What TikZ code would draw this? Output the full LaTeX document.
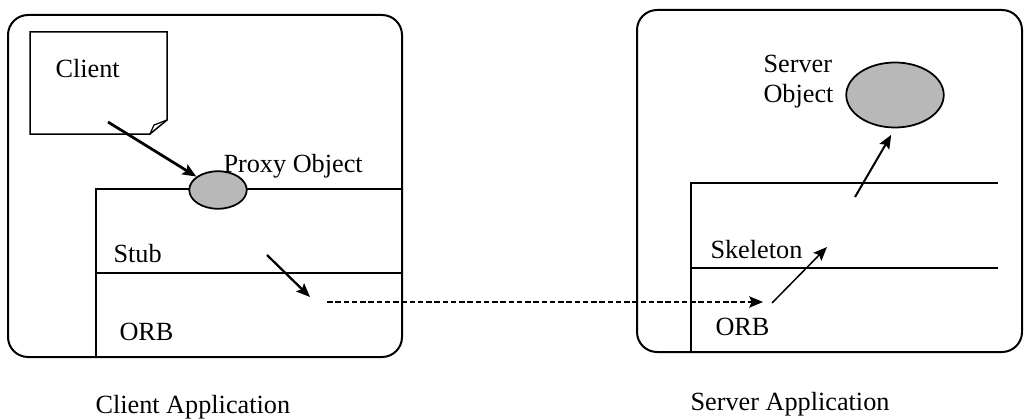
\documentclass[tikz,border=0pt]{standalone}
\usepackage{fontspec}
\setmainfont{Liberation Serif}
\usetikzlibrary{arrows.meta,shapes.geometric}

\begin{document}
\begin{tikzpicture}[x=0.4pt,y=-0.4pt,
  app/.style={draw,line width=0.8pt,rounded corners=8pt},
  layer/.style={line width=0.6pt},
  obj/.style={ellipse,draw,line width=0.7pt,fill=black!28,inner sep=0pt},
  txt/.style={font=\fontsize{10.5}{12}\selectfont,inner sep=0pt,anchor=base west},
  call/.style={-{Stealth[length=5.5pt,width=4.5pt,inset=1pt]}}]
  \useasboundingbox (0,0) rectangle (1024,419);
  % client side
  \draw[app] (8,15) rectangle (402,357);
  \draw[layer] (402,189) -- (96,189) -- (96,357);
  \draw[layer] (96,273) -- (402,273);
  \draw[line width=0.6pt] (30,32) -- (167,32) -- (167,120) -- (150,134) -- (30,134) -- cycle;
  \draw[line width=0.5pt] (150,134) -- (154,125) -- (167,120);
  \node[txt] (client) at (55,78) {Client};
  \node[obj,minimum width=23pt,minimum height=15pt] (proxy) at (218,190) {};
  \node[txt] (proxylbl) at (223,172) {Proxy Object};
  \node[txt] (stub) at (113,262) {Stub};
  \node[txt] (corb) at (119,340) {ORB};
  \node[txt] (capp) at (95,413) {Client Application};
  % server side
  \draw[app] (637,10) rectangle (1022,352);
  \draw[layer] (998,183) -- (691,183) -- (691,352);
  \draw[layer] (691,268) -- (998,268);
  \node[obj,minimum width=39pt,minimum height=26pt] (server) at (895,95) {};
  \node[txt,anchor=north west,align=left] (serverlbl) at (763,55) {Server\\Object};
  \node[txt] (skel) at (710,258) {Skeleton};
  \node[txt] (sorb) at (715,335) {ORB};
  \node[txt] (sapp) at (690,410) {Server Application};
  % connectors
  \coordinate (c1) at (108,122);
  \coordinate (c2) at (267,255);
  \coordinate (c3) at (310,297);
  \coordinate (d1) at (327,302);
  \coordinate (d2) at (763,302);
  \coordinate (s1) at (772,303);
  \coordinate (s2) at (827,247);
  \coordinate (s3) at (855,197);
  \path[call]
    (c1) edge[line width=1.1pt] (proxy)
    (c2) edge[line width=0.9pt] (c3)
    (d1) edge[line width=0.9pt,dash pattern=on 2.2pt off 1.1pt] (d2)
    (s1) edge[line width=0.6pt] (s2)
    (s3) edge[line width=0.8pt,shorten >=3pt] (server.south);
\end{tikzpicture}
\end{document}
